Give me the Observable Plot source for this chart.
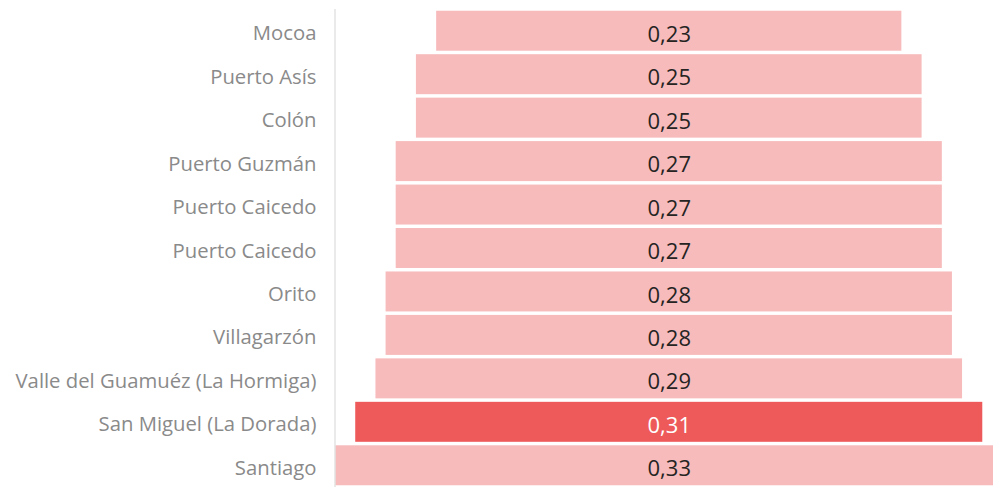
<!DOCTYPE html>
<html>
<head>
<meta charset="utf-8">
<script src="https://cdn.jsdelivr.net/npm/d3@7"></script>
<script src="https://cdn.jsdelivr.net/npm/@observablehq/plot@0.6"></script>
<style>
  html, body { margin: 0; padding: 0; background: #fff; overflow: hidden; }
  #chart svg { display: block; }
</style>
</head>
<body>
<div id="chart"></div>
<script>
const categories = [
  "Mocoa", "Puerto Asís", "Colón", "Puerto Guzmán", "Puerto Caicedo",
  "Puerto Caicedo", "Orito", "Villagarzón", "Valle del Guamuéz (La Hormiga)",
  "San Miguel (La Dorada)", "Santiago"
];
const values = [0.23, 0.25, 0.25, 0.27, 0.27, 0.27, 0.28, 0.28, 0.29, 0.31, 0.33];
const highlight = "San Miguel (La Dorada)";

const data = categories.map((name, i) => ({i, name, value: values[i], hi: name === highlight}));
const fmt = v => v.toFixed(2).replace(".", ",");
const xDomain = [-0.165, 0.1603];

const chart = Plot.plot({
  width: 993,
  height: 497,
  marginLeft: 335,
  marginRight: 0,
  marginTop: 9,
  marginBottom: 10,
  style: {fontFamily: "'Open Sans', sans-serif", background: "#fff"},
  x: {domain: xDomain, axis: null},
  y: {domain: d3.range(categories.length), paddingInner: 0.08, paddingOuter: 0.04, round: false, axis: null},
  marks: [
    Plot.barX(data, {
      x1: d => -d.value / 2,
      x2: d => d.value / 2,
      y: "i",
      fill: d => d.hi ? "#EE5A5A" : "#F7BBBC"
    }),
    Plot.ruleX([xDomain[0]], {stroke: "#e3e3e3", strokeWidth: 1.5, dx: -0.5}),
    Plot.axisY({
      label: null,
      tickSize: 0,
      tickPadding: 19,
      tickFormat: i => categories[i],
      fontSize: 20.3,
      fill: "#8a8a8a",
      dy: 2.5
    }),
    Plot.text(data, {
      x: () => 0,
      y: "i",
      text: d => fmt(d.value),
      fill: d => d.hi ? "#ffffff" : "#252423",
      fontSize: 22,
      dy: 3.5
    })
  ]
});
document.getElementById("chart").appendChild(chart);
</script>
</body>
</html>
